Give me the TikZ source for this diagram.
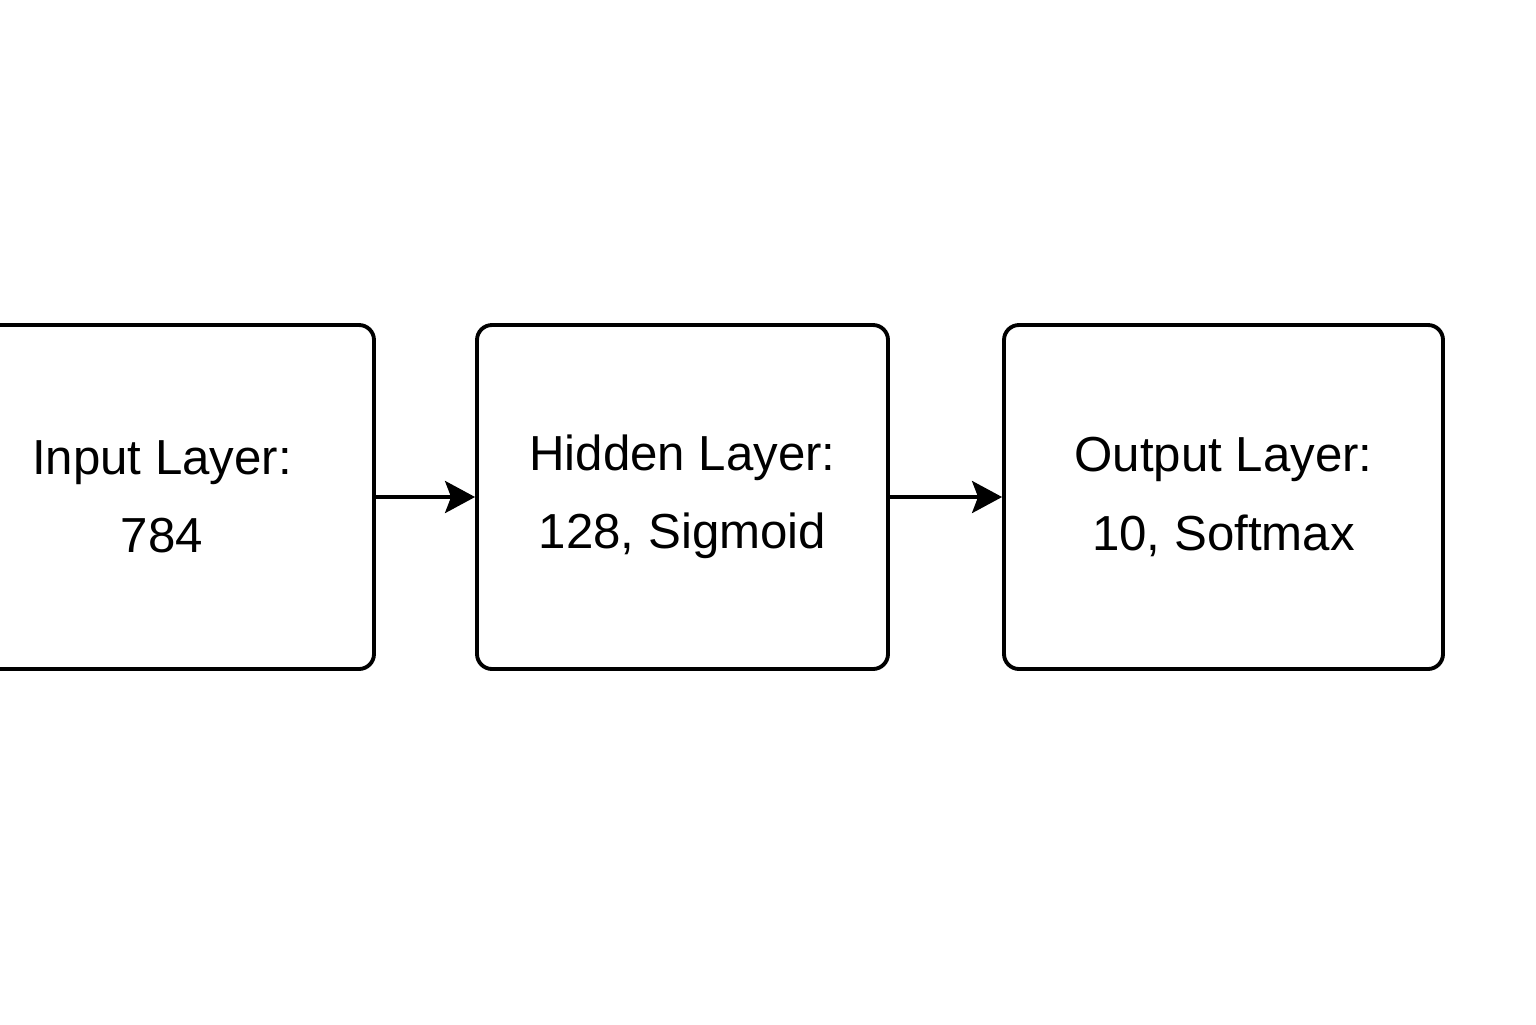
\documentclass[tikz,border=0pt]{standalone}
\usepackage{fontspec}
\setmainfont{Liberation Sans}
\usetikzlibrary{arrows.meta}

\begin{document}
\begin{tikzpicture}
    [
    layer/.style = {draw,line width=1.1pt,rounded corners=0.15cm,minimum height=3.44cm,align=center,font=\fontsize{14}{22.3}\selectfont},
    link/.style = {line width=1.1pt,-{Stealth[length=0.3cm,width=0.32cm,inset=0.06cm]}}
    ]
\useasboundingbox (0,0) rectangle (15.36,-10.24);

\node[layer,minimum width=4.24cm] (input) at (1.62,-4.97) {Input Layer:\\784};
\node[layer,minimum width=4.11cm] (hidden) at (6.825,-4.97) {Hidden Layer:\\128, Sigmoid};
\node[layer,minimum width=4.39cm] (output) at (12.235,-4.97) {Output Layer:\\10, Softmax};

\draw[link] (input) -- (hidden);
\draw[link] (hidden) -- (output);

\end{tikzpicture}
\end{document}
